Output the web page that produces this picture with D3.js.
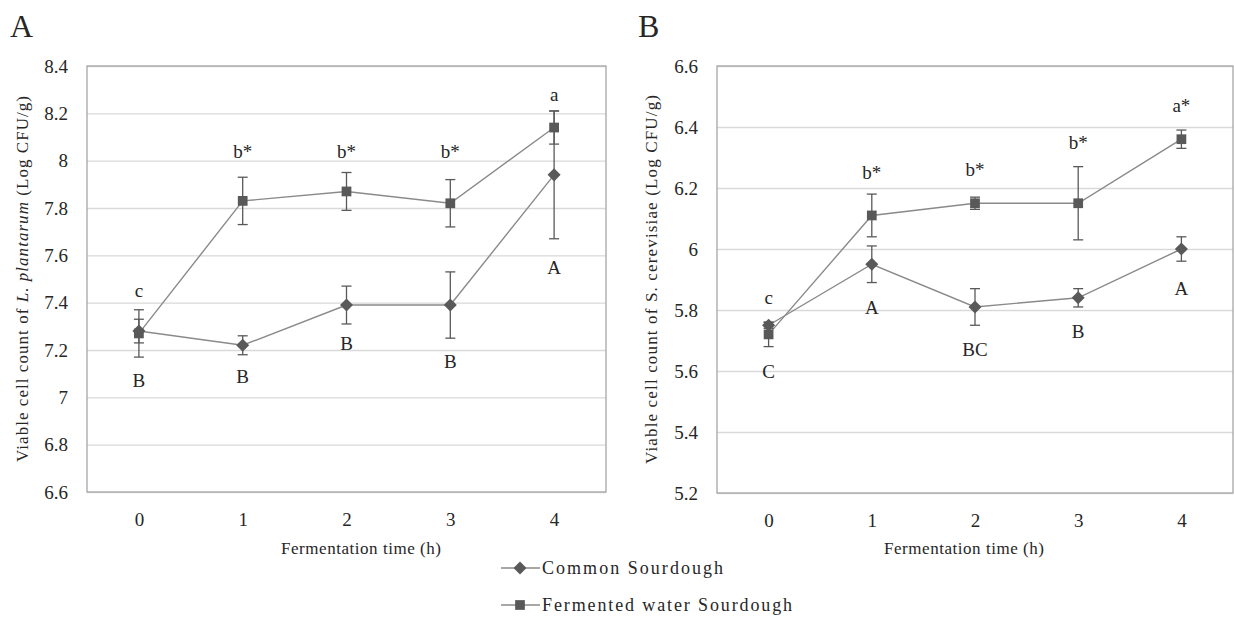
<!DOCTYPE html>
<html>
<head>
<meta charset="utf-8">
<script src="https://cdn.jsdelivr.net/npm/d3@7"></script>
<style>
  body { margin: 0; background: #fff; }
</style>
</head>
<body>
<script>
// fermentation time (h)
const times = [0, 1, 2, 3, 4];

// A: L. plantarum (log CFU/g), mean and error
const lpCommon = [7.28, 7.22, 7.39, 7.39, 7.94];
const lpCommonErr = [0.05, 0.04, 0.08, 0.14, 0.27];
const lpFermented = [7.27, 7.83, 7.87, 7.82, 8.14];
const lpFermentedErr = [0.10, 0.10, 0.08, 0.10, 0.07];
const lpTicks = [6.6, 6.8, 7, 7.2, 7.4, 7.6, 7.8, 8, 8.2, 8.4];
// significance letters (upper = fermented, lower = common) and the value they sit at
const lpUpper = ['c', 'b*', 'b*', 'b*', 'a'];
const lpUpperAt = [7.45, 8.04, 8.04, 8.04, 8.28];
const lpLower = ['B', 'B', 'B', 'B', 'A'];
const lpLowerAt = [7.07, 7.09, 7.23, 7.15, 7.55];

// B: S. cerevisiae (log CFU/g)
const scCommon = [5.75, 5.95, 5.81, 5.84, 6.00];
const scCommonErr = [0.01, 0.06, 0.06, 0.03, 0.04];
const scFermented = [5.72, 6.11, 6.15, 6.15, 6.36];
const scFermentedErr = [0.04, 0.07, 0.02, 0.12, 0.03];
const scTicks = [5.2, 5.4, 5.6, 5.8, 6, 6.2, 6.4, 6.6];
const scUpper = ['c', 'b*', 'b*', 'b*', 'a*'];
const scUpperAt = [5.84, 6.25, 6.26, 6.35, 6.47];
const scLower = ['C', 'A', 'BC', 'B', 'A'];
const scLowerAt = [5.60, 5.81, 5.67, 5.73, 5.87];

const seriesNames = ['Common Sourdough', 'Fermented water Sourdough'];

const LINE = '#8a8a8a', MARK = '#595959', GRID = '#d9d9d9', FRAME = '#a6a6a6', INK = '#262626';
const FONT = "'Liberation Serif', 'Times New Roman', serif";
const FS = 19;      // tick labels, letters
const FS_T = 17;    // axis titles, legend

const svg = d3.select('body').append('svg').attr('width', 1234).attr('height', 619);

const diamond = d3.symbol(d3.symbolSquare, 85)();
const square = d3.symbol(d3.symbolSquare, 95)();

// every text goes through this so the serif face is set inline
const txt = (sel, size = FS) => sel.style('font-family', FONT).style('font-size', size + 'px').attr('fill', INK);

function drawPanel(p) {
  const x = d3.scalePoint().domain(times).range([p.left, p.right]).padding(0.5);
  const y = d3.scaleLinear().domain([p.ticks[0], p.ticks[p.ticks.length - 1]]).range([p.bottom, p.top]);
  const w = p.right - p.left;
  const g = svg.append('g');

  // gridlines
  g.append('g').attr('transform', `translate(${p.left},0)`)
    .call(d3.axisLeft(y).tickValues(p.ticks).tickSize(-w).tickFormat(''))
    .call(a => a.select('.domain').remove())
    .call(a => a.selectAll('line').attr('stroke', GRID).attr('stroke-width', 1.3));

  g.append('rect').attr('x', p.left).attr('y', p.top).attr('width', w).attr('height', p.bottom - p.top)
    .attr('fill', 'none').attr('stroke', FRAME).attr('stroke-width', 1.3);

  // y tick labels
  g.append('g').attr('transform', `translate(${p.left},0)`)
    .call(d3.axisLeft(y).tickValues(p.ticks).tickSize(0).tickPadding(19).tickFormat(d3.format('~g')))
    .call(a => a.select('.domain').remove())
    .selectAll('text').call(txt);

  // x tick labels
  g.append('g').attr('transform', `translate(0,${p.bottom})`)
    .call(d3.axisBottom(x).tickSize(0).tickPadding(21))
    .call(a => a.select('.domain').remove())
    .selectAll('text').call(txt);

  // axis titles
  g.append('text').attr('x', p.xTitleX).attr('y', 554).attr('text-anchor', 'middle')
    .call(txt, FS_T).attr('textLength', 160).attr('lengthAdjust', 'spacing')
    .text('Fermentation time (h)');

  const yt = g.append('text')
    .attr('transform', `translate(${p.yTitleX},${(p.top + p.bottom) / 2}) rotate(-90)`)
    .attr('text-anchor', 'middle').attr('dy', '0.35em').call(txt, FS_T)
    .attr('textLength', p.yTitleLen).attr('lengthAdjust', 'spacing');
  p.yTitle.forEach(([t, it]) => yt.append('tspan').style('font-style', it ? 'italic' : 'normal').text(t));

  g.append('text').attr('x', p.letterX).attr('y', 37).call(txt, 32).text(p.letter);

  const series = [
    { v: p.common, e: p.commonErr, sym: diamond, rot: 45 },
    { v: p.fermented, e: p.fermentedErr, sym: square, rot: 0 }
  ];
  const line = d3.line().x((d, i) => x(times[i])).y(d => y(d));

  series.forEach(s => {
    g.append('path').attr('d', line(s.v)).attr('fill', 'none').attr('stroke', LINE).attr('stroke-width', 1.4);
  });
  series.forEach(s => {
    const eb = g.append('g').attr('stroke', MARK).attr('stroke-width', 1.3);
    s.v.forEach((v, i) => {
      const cx = x(times[i]), y1 = y(v - s.e[i]), y2 = y(v + s.e[i]);
      eb.append('line').attr('x1', cx).attr('x2', cx).attr('y1', y1).attr('y2', y2);
      eb.append('line').attr('x1', cx - 5).attr('x2', cx + 5).attr('y1', y1).attr('y2', y1);
      eb.append('line').attr('x1', cx - 5).attr('x2', cx + 5).attr('y1', y2).attr('y2', y2);
    });
  });
  series.forEach(s => {
    g.append('g').selectAll('path').data(s.v).join('path')
      .attr('d', s.sym).attr('fill', MARK)
      .attr('transform', (d, i) => `translate(${x(times[i])},${y(d)}) rotate(${s.rot})`);
  });

  // significance letters
  const lab = (t, at) => g.append('g').selectAll('text').data(t).join('text')
    .attr('x', (d, i) => x(times[i])).attr('y', (d, i) => y(at[i]))
    .attr('dy', '0.35em').attr('text-anchor', 'middle').call(txt).text(d => d);
  lab(p.upper, p.upperAt);
  lab(p.lower, p.lowerAt);
}

drawPanel({
  letter: 'A', letterX: 10, left: 87, right: 606, top: 66, bottom: 492,
  ticks: lpTicks, common: lpCommon, commonErr: lpCommonErr,
  fermented: lpFermented, fermentedErr: lpFermentedErr,
  upper: lpUpper, upperAt: lpUpperAt, lower: lpLower, lowerAt: lpLowerAt,
  xTitleX: 361, yTitleX: 22, yTitleLen: 366,
  yTitle: [['Viable cell count of ', false], ['L.  plantarum', true], ['  (Log CFU/g)', false]]
});
drawPanel({
  letter: 'B', letterX: 638, left: 717, right: 1233, top: 66, bottom: 493,
  ticks: scTicks, common: scCommon, commonErr: scCommonErr,
  fermented: scFermented, fermentedErr: scFermentedErr,
  upper: scUpper, upperAt: scUpperAt, lower: scLower, lowerAt: scLowerAt,
  xTitleX: 964, yTitleX: 651, yTitleLen: 369,
  yTitle: [['Viable cell count of S. cerevisiae (Log CFU/g)', false]]
});

// legend
const leg = svg.append('g');
const legRows = [{ y: 568, sym: diamond, rot: 45, len: 181 }, { y: 605, sym: square, rot: 0, len: 250 }];
legRows.forEach((r, i) => {
  leg.append('line').attr('x1', 501).attr('x2', 540).attr('y1', r.y).attr('y2', r.y)
    .attr('stroke', LINE).attr('stroke-width', 1.4);
  leg.append('path').attr('d', r.sym).attr('fill', MARK)
    .attr('transform', `translate(520,${r.y}) rotate(${r.rot})`);
  leg.append('text').attr('x', 542).attr('y', r.y).attr('dy', '0.35em').call(txt, 18)
    .attr('textLength', r.len).attr('lengthAdjust', 'spacing').text(seriesNames[i]);
});
</script>
</body>
</html>
